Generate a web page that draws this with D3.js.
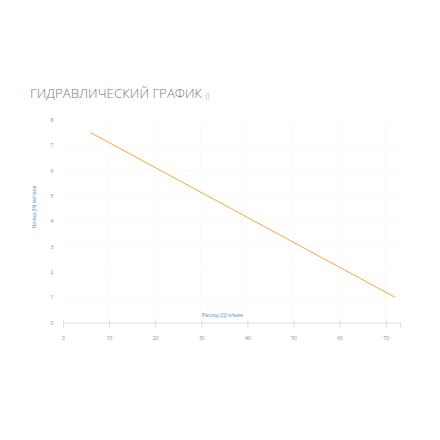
<!DOCTYPE html>
<html>
<head>
<meta charset="utf-8">
<script src="https://cdn.jsdelivr.net/npm/d3@7"></script>
<style>
  body { margin: 0; background: #fff; }
  .tick text { font-family: "Open Sans", sans-serif; fill: #888; }
</style>
</head>
<body>
<svg width="440" height="440"></svg>
<script>
  var flow = [6, 72];          // Q, л/мин
  var head = [7.5, 1.0];       // H, метров
  var xTicks = [0, 10, 20, 30, 40, 50, 60, 70];
  var yTicks = [0, 1, 2, 3, 4, 5, 6, 7, 8];

  var svg = d3.select("svg");

  var x = d3.scaleLinear().domain([0, 73.1]).range([63, 400]);
  var y = d3.scaleLinear().domain([0, 8]).range([322.5, 120]);

  var title = svg.append("text")
    .attr("x", 30).attr("y", 98)
    .style("font-family", "Open Sans, sans-serif")
    .style("font-weight", 300)
    .style("font-size", "13.3px")
    .style("fill", "#7a7a7a");
  title.append("tspan").text("ГИДРАВЛИЧЕСКИЙ ГРАФИК ");
  title.append("tspan").style("font-size", "7px").text("()");

  // faint grid
  svg.append("g").selectAll("line")
    .data(xTicks.slice(1))
    .enter().append("line")
    .attr("x1", x).attr("x2", x)
    .attr("y1", y(8)).attr("y2", y(0))
    .style("stroke", "#fafafa");

  svg.append("g").selectAll("line")
    .data(yTicks.slice(1))
    .enter().append("line")
    .attr("x1", x(0)).attr("x2", 400)
    .attr("y1", y).attr("y2", y)
    .style("stroke", "#fafafa");

  var xAxis = svg.append("g")
    .attr("transform", "translate(0," + y(0) + ")")
    .call(d3.axisBottom(x).tickValues(xTicks).tickSize(5).tickPadding(9));
  xAxis.select(".domain").style("stroke", "#dcdcdc");
  xAxis.selectAll(".tick line").style("stroke", "#dcdcdc").attr("y1", -2);
  xAxis.selectAll(".tick text").style("font-size", "5px");

  var yAxis = svg.append("g")
    .attr("transform", "translate(" + 55 + ",0)")
    .call(d3.axisLeft(y).tickValues(yTicks).tickSize(0).tickPadding(0));
  yAxis.select(".domain").remove();
  yAxis.selectAll(".tick text").style("font-size", "5px").attr("text-anchor", "middle").attr("x", -3);

  svg.append("text")
    .attr("transform", "translate(36,207) rotate(-90)")
    .attr("text-anchor", "middle")
    .style("font-family", "Open Sans, sans-serif")
    .style("font-size", "5px")
    .style("fill", "#3f8fb5")
    .text("Напор (H) метров");

  svg.append("text")
    .attr("x", 202).attr("y", 317)
    .style("font-family", "Open Sans, sans-serif")
    .style("font-size", "5px")
    .style("fill", "#3f8fb5")
    .text("Расход (Q) л/мин");

  var line = d3.line()
    .x(function(d) { return x(d[0]); })
    .y(function(d) { return y(d[1]); });

  svg.append("path")
    .datum(d3.zip(flow, head))
    .attr("d", line)
    .style("fill", "none")
    .style("stroke", "#efa83a")
    .style("stroke-width", 1);
</script>
</body>
</html>
